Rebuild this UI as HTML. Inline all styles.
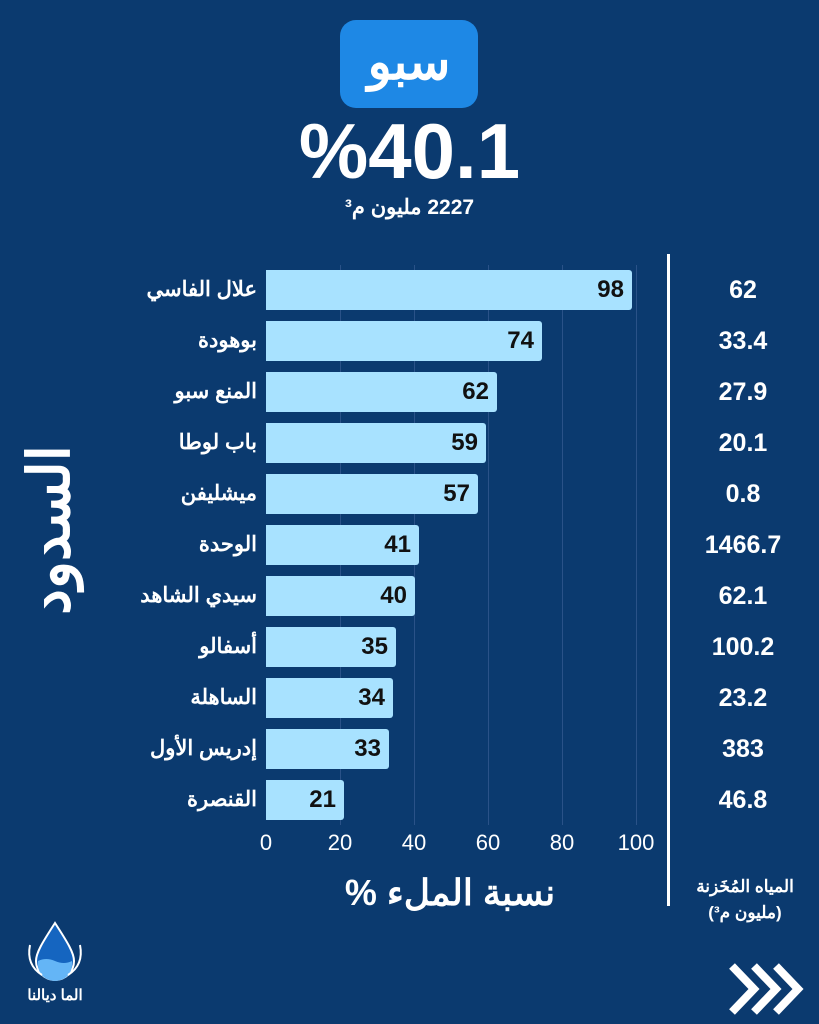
<!DOCTYPE html>
<html><head><meta charset="utf-8"><style>
body{margin:0;width:819px;height:1024px;background:#0b3a6f;overflow:hidden;font-family:"Liberation Sans","Noto Sans CJK SC",sans-serif;color:#fff;position:relative}
.a{position:absolute}
.bar{position:absolute;left:266px;height:40px;background:#a8e2ff;border-radius:0 3px 3px 0}
.bv{position:absolute;right:8px;top:0;line-height:40px;font-size:24px;font-weight:bold;color:#111}
.lbl{position:absolute;right:562px;font-size:21px;font-weight:bold;line-height:40px;white-space:nowrap;direction:rtl}
.val{position:absolute;left:680px;width:126px;text-align:center;font-size:25px;font-weight:bold;line-height:40px}
.grid{position:absolute;top:265px;height:560px;width:1px;background:#2a5288}
.tick{position:absolute;top:830px;font-size:22px;width:60px;text-align:center}
</style></head><body>
<div class="a" style="left:340px;top:20px;width:138px;height:88px;background:#1e88e5;border-radius:16px;text-align:center;line-height:84px;font-size:50px;font-weight:bold">سبو</div>
<div class="a" style="left:0;width:819px;top:108px;text-align:center;font-size:78px;font-weight:bold;line-height:86px">%40.1</div>
<div class="a" style="left:0;width:819px;top:195px;text-align:center;font-size:21px;font-weight:bold;direction:rtl">2227 مليون م³</div>
<div class="grid" style="left:340px"></div><div class="grid" style="left:414px"></div><div class="grid" style="left:488px"></div><div class="grid" style="left:562px"></div><div class="grid" style="left:636px"></div>
<div class="bar" style="top:270px;width:366px"><span class="bv">98</span></div>
<div class="bar" style="top:321px;width:276px"><span class="bv">74</span></div>
<div class="bar" style="top:372px;width:231px"><span class="bv">62</span></div>
<div class="bar" style="top:423px;width:220px"><span class="bv">59</span></div>
<div class="bar" style="top:474px;width:212px"><span class="bv">57</span></div>
<div class="bar" style="top:525px;width:153px"><span class="bv">41</span></div>
<div class="bar" style="top:576px;width:149px"><span class="bv">40</span></div>
<div class="bar" style="top:627px;width:130px"><span class="bv">35</span></div>
<div class="bar" style="top:678px;width:127px"><span class="bv">34</span></div>
<div class="bar" style="top:729px;width:123px"><span class="bv">33</span></div>
<div class="bar" style="top:780px;width:78px"><span class="bv">21</span></div>
<div class="lbl" style="top:270px">علال الفاسي</div>
<div class="lbl" style="top:321px">بوهودة</div>
<div class="lbl" style="top:372px">المنع سبو</div>
<div class="lbl" style="top:423px">باب لوطا</div>
<div class="lbl" style="top:474px">ميشليفن</div>
<div class="lbl" style="top:525px">الوحدة</div>
<div class="lbl" style="top:576px">سيدي الشاهد</div>
<div class="lbl" style="top:627px">أسفالو</div>
<div class="lbl" style="top:678px">الساهلة</div>
<div class="lbl" style="top:729px">إدريس الأول</div>
<div class="lbl" style="top:780px">القنصرة</div>
<div class="val" style="top:270px">62</div><div class="val" style="top:321px">33.4</div><div class="val" style="top:372px">27.9</div><div class="val" style="top:423px">20.1</div><div class="val" style="top:474px">0.8</div><div class="val" style="top:525px">1466.7</div><div class="val" style="top:576px">62.1</div><div class="val" style="top:627px">100.2</div><div class="val" style="top:678px">23.2</div><div class="val" style="top:729px">383</div><div class="val" style="top:780px">46.8</div>
<div class="a" style="left:667px;top:254px;width:3px;height:652px;background:#fff"></div>
<div class="tick" style="left:236px">0</div><div class="tick" style="left:310px">20</div><div class="tick" style="left:384px">40</div><div class="tick" style="left:458px">60</div><div class="tick" style="left:532px">80</div><div class="tick" style="left:606px">100</div>
<div class="a" style="left:300px;width:300px;top:872px;text-align:center;font-size:36px;font-weight:bold;direction:rtl">نسبة الملء %</div>
<div class="a" style="left:675px;width:140px;top:874px;text-align:center;font-size:17px;font-weight:bold;line-height:26px;direction:rtl">المياه المُخَزنة<br>(مليون م³)</div>
<div class="a" style="left:-40px;top:500px;width:180px;text-align:center;font-size:58px;font-weight:bold;transform:rotate(-90deg);transform-origin:center;line-height:60px">السدود</div>
<svg class="a" style="left:22px;top:915px" width="66" height="66" viewBox="0 0 66 66"><path d="M33 8 C20 28 14 38 14 46 a19 19 0 0 0 38 0 C52 38 46 28 33 8Z" fill="#1565c0" stroke="#fff" stroke-width="2"/><path d="M16 46 q8 -4 17 0 t17 0 v4 a17 16 0 0 1 -34 0z" fill="#64b5f6"/><path d="M8 30 q-4 20 12 30 M58 30 q4 20 -12 30" stroke="#fff" stroke-width="2" fill="none"/></svg>
<div class="a" style="left:10px;width:90px;top:986px;text-align:center;font-size:15px;font-weight:bold">الما ديالنا</div>
<svg class="a" style="left:728px;top:962px" width="76" height="54" viewBox="0 0 76 54"><path d="M4 4 L26 27 L4 50 M26 4 L48 27 L26 50 M48 4 L70 27 L48 50" stroke="#fff" stroke-width="8" fill="none"/></svg>
</body></html>
